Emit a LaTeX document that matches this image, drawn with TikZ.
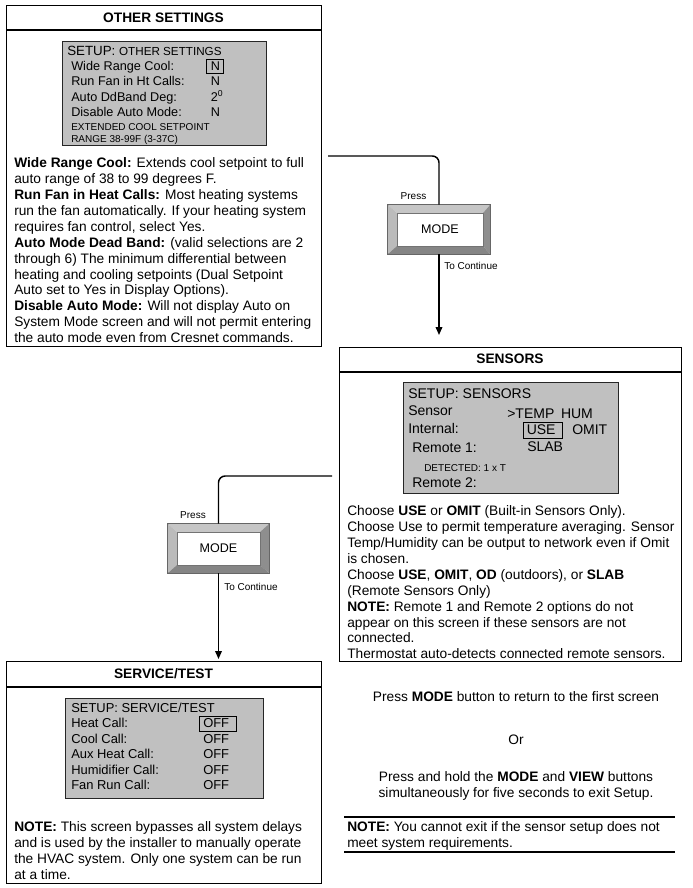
\documentclass[tikz,border=0pt]{standalone}
\usepackage{fontspec}
\setmainfont{Liberation Sans}
\usetikzlibrary{arrows.meta,calc}
\definecolor{lcdgray}{HTML}{C0C0C0}
\definecolor{bevlight}{HTML}{C6C6C6}
\definecolor{bevleft}{HTML}{BBBBBB}
\definecolor{bevright}{HTML}{8E8E8E}
\definecolor{bevbottom}{HTML}{858585}
\newcommand{\fs}[1]{\fontsize{#1}{#1}\selectfont}
\begin{document}
\begin{tikzpicture}[x=0.75pt,y=-0.75pt,
  panel/.style={draw, line width=0.8pt, anchor=north west, inner sep=0pt},
  lcd/.style={draw=black!85, fill=lcdgray, line width=0.9pt, anchor=north west, inner sep=0pt},
  ptitle/.style={font=\bfseries\fs{10.3}, inner sep=0pt},
  body/.style={anchor=north west, inner sep=0pt, align=left, font=\fontsize{10.3}{11.93}\selectfont},
  rtext/.style={inner sep=0pt, align=center, font=\fontsize{10.3}{11.93}\selectfont},
  lt/.style={anchor=base west, inner sep=0pt, font=\fs{9.5}},
  ltb/.style={anchor=base west, inner sep=0pt, font=\fs{10.5}},
  lts/.style={anchor=base west, inner sep=0pt, font=\fs{7.5}},
  selbox/.style={draw, line width=0.9pt, anchor=north west, inner sep=0pt},
  btnout/.style={draw=black!60, line width=0.5pt, inner sep=0pt},
  btnlbl/.style={inner sep=0pt, font=\fs{7.5}},
  conn/.style={line width=1.1pt, rounded corners=5pt},
  arr/.style={line width=1.1pt, -{Triangle[length=6pt,width=5pt]}}
]
\useasboundingbox (0,0) rectangle (692,888);

% ---------------- OTHER SETTINGS panel ----------------
\node[panel, minimum width={315*0.75pt}, minimum height={341*0.75pt}] (os) at (6,5) {};
\draw[line width=0.8pt] (6,30) -- (321,30);
\node[ptitle] (ost) at (163.5,18) {OTHER SETTINGS};
\node[lcd, minimum width={204*0.75pt}, minimum height={104*0.75pt}] (oslcd) at (62,41) {};
\node[lt, font=\fs{10}] (os0) at (67,55.5) {SETUP: {\fs{8.75}OTHER SETTINGS}};
\node[lt] (os1) at (71,70.5) {Wide Range Cool:};
\node[lt] (os2) at (71,85.8) {Run Fan in Ht Calls:};
\node[lt] (os3) at (71,101.2) {Auto DdBand Deg:};
\node[lt] (os4) at (71,116.5) {Disable Auto Mode:};
\node[selbox, minimum width={17*0.75pt}, minimum height={14*0.75pt}] (osb) at (206,59) {};
\node[lt] (osv1) at (210.5,70.5) {N};
\node[lt] (osv2) at (210.5,85.8) {N};
\node[lt] (osv3) at (210.5,101.2) {2\raisebox{3.2pt}{\fs{6.5}0}};
\node[lt] (osv4) at (210.5,116.5) {N};
\node[lts] (os5) at (71,130.5) {EXTENDED COOL SETPOINT};
\node[lts] (os6) at (71,142.5) {RANGE 38-99F (3-37C)};
\node[body] (osd) at (14,157.5) {\textbf{Wide Range Cool:} Extends cool setpoint to full\\
auto range of 38 to 99 degrees F.\\
\textbf{Run Fan in Heat Calls:} Most heating systems\\
run the fan automatically. If your heating system\\
requires fan control, select Yes.\\
\textbf{Auto Mode Dead Band:} (valid selections are 2\\
through 6) The minimum differential between\\
heating and cooling setpoints (Dual Setpoint\\
Auto set to Yes in Display Options).\\
\textbf{Disable Auto Mode:} Will not display Auto on\\
System Mode screen and will not permit entering\\
the auto mode even from Cresnet commands.};

% ---------------- MODE button 1 ----------------
\node[btnout, minimum width={102*0.75pt}, minimum height={49*0.75pt}] (b1) at (439,229.5) {};
\fill[bevlight] (b1.north west) -- (b1.north east) -- (483,213) -- (397,213) -- cycle;
\fill[bevleft] (b1.north west) -- (397,213) -- (397,246) -- (b1.south west) -- cycle;
\fill[bevright] (b1.north east) -- (483,213) -- (483,246) -- (b1.south east) -- cycle;
\fill[bevbottom] (b1.south west) -- (397,246) -- (483,246) -- (b1.south east) -- cycle;
\node[draw=black!55, line width=0.4pt, fill=white, minimum width={86*0.75pt}, minimum height={33*0.75pt}, inner sep=0pt, font=\fs{9.4}] (b1i) at (440,229.5) {MODE};
\draw[black!60, line width=0.5pt] (b1.north west) rectangle (b1.south east);
\node[btnlbl] (p1) at (413.5,196) {Press};
\node[btnlbl, anchor=west] (c1) at (444,266) {To Continue};
\coordinate (s1) at (328,156);
\coordinate (t1) at (439,335);
\draw[conn] (s1) -| (b1.north);
\draw[arr] (b1.south) -- (t1);

% ---------------- SENSORS panel ----------------
\node[panel, minimum width={342*0.75pt}, minimum height={314*0.75pt}] (sn) at (339,347) {};
\draw[line width=0.8pt] (339,372) -- (681,372);
\node[ptitle] (snt) at (510,359) {SENSORS};
\node[lcd, minimum width={215*0.75pt}, minimum height={111*0.75pt}] (snlcd) at (403,382) {};
\node[ltb] (sn0) at (408,398) {SETUP: SENSORS};
\node[ltb] (sn1) at (408,415.5) {Sensor};
\node[ltb] (sn2) at (507,418.5) {>TEMP\hspace{5pt}HUM};
\node[ltb] (sn3) at (408,433.5) {Internal:};
\node[selbox, minimum width={39*0.75pt}, minimum height={16*0.75pt}] (snb) at (523,422) {};
\node[ltb] (sn4) at (526.5,434.8) {USE};
\node[ltb] (sn5) at (572,434.8) {OMIT};
\node[ltb] (sn6) at (412,452.5) {Remote 1:};
\node[ltb] (sn7) at (527,451.5) {SLAB};
\node[lts] (sn8) at (424,471) {DETECTED: 1 x T};
\node[ltb] (sn9) at (412,487.5) {Remote 2:};
\node[body] (snd) at (347,505.5) {Choose \textbf{USE} or \textbf{OMIT} (Built-in Sensors Only).\\
Choose Use to permit temperature averaging. Sensor\\
Temp/Humidity can be output to network even if Omit\\
is chosen.\\
Choose \textbf{USE}, \textbf{OMIT}, \textbf{OD} (outdoors), or \textbf{SLAB}\\
(Remote Sensors Only)\\
\textbf{NOTE:} Remote 1 and Remote 2 options do not\\
appear on this screen if these sensors are not\\
connected.\\
Thermostat auto-detects connected remote sensors.};

% ---------------- MODE button 2 ----------------
\node[btnout, minimum width={101*0.75pt}, minimum height={49*0.75pt}] (b2) at (218.5,548.5) {};
\fill[bevlight] (b2.north west) -- (b2.north east) -- (260,532) -- (177,532) -- cycle;
\fill[bevleft] (b2.north west) -- (177,532) -- (177,565) -- (b2.south west) -- cycle;
\fill[bevright] (b2.north east) -- (260,532) -- (260,565) -- (b2.south east) -- cycle;
\fill[bevbottom] (b2.south west) -- (177,565) -- (260,565) -- (b2.south east) -- cycle;
\node[draw=black!55, line width=0.4pt, fill=white, minimum width={83*0.75pt}, minimum height={33*0.75pt}, inner sep=0pt, font=\fs{9.4}] (b2i) at (218.5,548.5) {MODE};
\draw[black!60, line width=0.5pt] (b2.north west) rectangle (b2.south east);
\node[btnlbl] (p2) at (193,515) {Press};
\node[btnlbl, anchor=west] (c2) at (224,587) {To Continue};
\coordinate (s2) at (332,476);
\coordinate (t2) at (218.5,659);
\draw[conn] (s2) -| (b2.north);
\draw[arr] (b2.south) -- (t2);

% ---------------- SERVICE/TEST panel ----------------
\node[panel, minimum width={315*0.75pt}, minimum height={222*0.75pt}] (st) at (6,661) {};
\draw[line width=0.8pt] (6,687) -- (321,687);
\node[ptitle] (stt) at (163.5,674) {SERVICE/TEST};
\node[lcd, minimum width={198*0.75pt}, minimum height={100*0.75pt}] (stlcd) at (65,698) {};
\node[lt, font=\fs{9.7}] (st0) at (71,712.5) {SETUP: SERVICE/TEST};
\node[lt, font=\fs{9.7}] (st1) at (71,727.5) {Heat Call:};
\node[lt, font=\fs{9.7}] (st2) at (71,743) {Cool Call:};
\node[lt, font=\fs{9.7}] (st3) at (71,758.5) {Aux Heat Call:};
\node[lt, font=\fs{9.7}] (st4) at (71,774) {Humidifier Call:};
\node[lt, font=\fs{9.7}] (st5) at (71,789.5) {Fan Run Call:};
\node[selbox, minimum width={37*0.75pt}, minimum height={15*0.75pt}] (stb) at (199,716) {};
\node[lt, font=\fs{9.7}] (sv1) at (203,727.5) {OFF};
\node[lt, font=\fs{9.7}] (sv2) at (203,743) {OFF};
\node[lt, font=\fs{9.7}] (sv3) at (203,758.5) {OFF};
\node[lt, font=\fs{9.7}] (sv4) at (203,774) {OFF};
\node[lt, font=\fs{9.7}] (sv5) at (203,789.5) {OFF};
\node[body] (std) at (14,821.5) {\textbf{NOTE:} This screen bypasses all system delays\\
and is used by the installer to manually operate\\
the HVAC system. Only one system can be run\\
at a time.};

% ---------------- exit text ----------------
\node[rtext] (r1) at (516,697) {Press \textbf{MODE} button to return to the first screen};
\node[rtext] (r2) at (516,740) {Or};
\node[rtext, anchor=north] (r3) at (516,771.5) {Press and hold the \textbf{MODE} and \textbf{VIEW} buttons\\
simultaneously for five seconds to exit Setup.};
\draw[line width=0.8pt] (344,817) -- (675,817);
\node[body] (r4) at (347,821.5) {\textbf{NOTE:} You cannot exit if the sensor setup does not\\
meet system requirements.};
\draw[line width=0.8pt] (344,852) -- (675,852);
\end{tikzpicture}
\end{document}
